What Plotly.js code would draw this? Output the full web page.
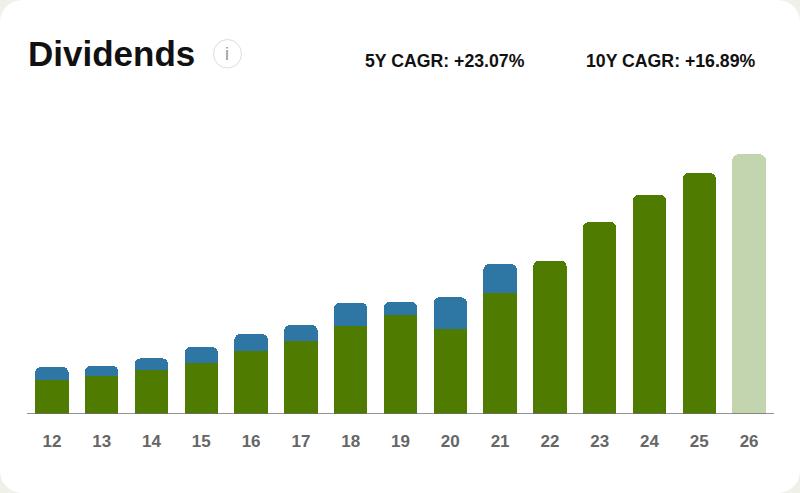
<!DOCTYPE html>
<html>
<head>
<meta charset="utf-8">
<script src="https://cdn.plot.ly/plotly-3.0.1.min.js"></script>
<style>
html,body{margin:0;padding:0;width:800px;height:493px;overflow:hidden;background:#eef0ea;}
#card{position:absolute;left:0;top:0;width:800px;height:493px;background:#fff;border-radius:22px;overflow:hidden;}
#chart{width:800px;height:493px;}
</style>
</head>
<body>
<div id="card"><div id="chart"></div></div>
<script>
const years = ['12','13','14','15','16','17','18','19','20','21','22','23','24','25','26'];
const regular = [33.7,38.3,44.3,50.7,63,72.7,88.3,99.3,85.3,120.7,153.3,192,219,241,259.7];
const special = [13.3,10,11.4,16.3,17,16.3,23,12.7,31.4,29.3,null,null,null,null,null];
const GREEN = '#4e7b00', PALE = '#c3d5ae', BLUE = '#2e76a3';
const regularColors = years.map(y => y === '26' ? PALE : GREEN);
const FONT = 'Liberation Sans, Arial, sans-serif';
const plotLeft = 27, plotRight = 774, plotBase = 414;
const px = v => (v - plotLeft) / (plotRight - plotLeft);
const py = v => (plotBase - v) / plotBase;
const data = [
 {type:'bar', x:years, y:regular, marker:{color:regularColors, line:{width:0}}, hoverinfo:'skip'},
 {type:'bar', x:years, y:special, marker:{color:BLUE, line:{width:0}}, hoverinfo:'skip'}
];
const layout = {
 width:800, height:493, autosize:false, showlegend:false,
 paper_bgcolor:'rgba(0,0,0,0)', plot_bgcolor:'rgba(0,0,0,0)',
 margin:{l:plotLeft, r:800-plotRight, t:0, b:493-plotBase, pad:0},
 barmode:'stack', bargap:0.327, barcornerradius:6,
 font:{family:FONT},
 title:{text:'Dividends', font:{family:FONT, size:35, color:'#111', weight:700}, x:28/800, xanchor:'left', y:1-54/493, yanchor:'middle'},
 xaxis:{type:'category', range:[-0.5,14.5], showgrid:false, zeroline:false, showline:false, ticks:'outside', ticklen:12, tickcolor:'rgba(0,0,0,0)', tickfont:{family:FONT,size:17,color:'#666',weight:700}, automargin:false},
 yaxis:{range:[0,414], showgrid:false, zeroline:false, showline:false, showticklabels:false, ticks:'', fixedrange:true, automargin:false},
 shapes:[
  {type:'line', xref:'paper', yref:'y', x0:0, x1:1, y0:-0.3, y1:-0.3, line:{color:'#6f6f6f', width:2}},
  {type:'circle', xref:'paper', yref:'paper', x0:px(213.5), x1:px(241.5), y0:py(68), y1:py(39.5), line:{color:'#dedcd8',width:1}, fillcolor:'#fff'}
 ],
 annotations:[
  {xref:'paper',yref:'paper',x:px(227),y:py(54),xanchor:'center',yanchor:'middle',text:'i',showarrow:false,font:{family:FONT,size:18,color:'#999'}},
  {xref:'paper',yref:'paper',x:px(363),y:py(61),xanchor:'left',yanchor:'middle',text:'5Y CAGR: +23.07%',showarrow:false,font:{family:FONT,size:17.7,color:'#111',weight:700}},
  {xref:'paper',yref:'paper',x:px(584),y:py(61),xanchor:'left',yanchor:'middle',text:'10Y CAGR: +16.89%',showarrow:false,font:{family:FONT,size:17.7,color:'#111',weight:700}}
 ]
};
Plotly.newPlot('chart', data, layout, {displayModeBar:false, staticPlot:true});
</script>
</body>
</html>
